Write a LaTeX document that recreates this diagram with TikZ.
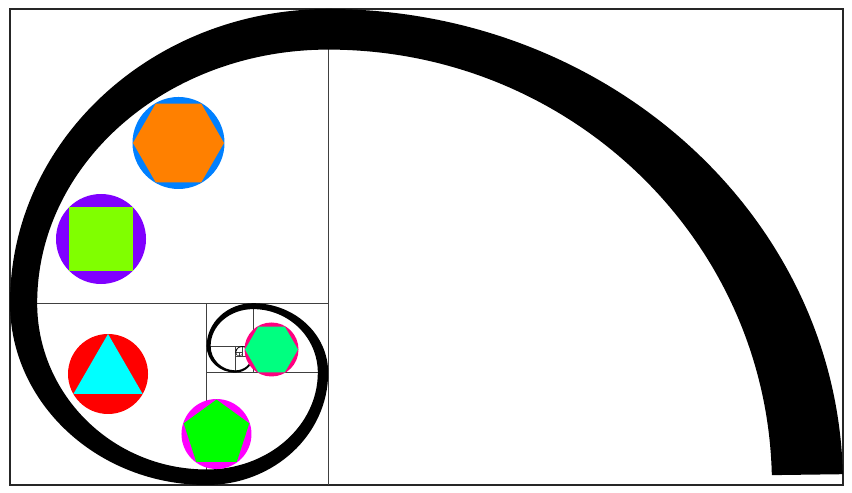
\documentclass[tikz,border=0pt]{standalone}
\usepackage{tikz}
\usetikzlibrary{shapes.geometric}
\definecolor{azure}{HTML}{0080FF}
\definecolor{tangerine}{HTML}{FF8000}
\definecolor{grape}{HTML}{8000FF}
\definecolor{chartreuse}{HTML}{80FF00}
\definecolor{scarlet}{HTML}{FF0000}
\definecolor{aqua}{HTML}{00FFFF}
\definecolor{fuchsia}{HTML}{FF00FF}
\definecolor{leaf}{HTML}{00FF00}
\definecolor{rose}{HTML}{FF0080}
\definecolor{spring}{HTML}{00FF80}
\tikzset{
  frame/.style = {draw=black!85, line width=0.7pt},
  cut/.style   = {draw=black!75, line width=0.6pt},
  band/.style  = {fill=black},
  disc/.style  = {circle, inner sep=0pt, minimum size=#1},
  gon/.style   = {regular polygon, regular polygon sides=#1, inner sep=0pt},
}
\begin{document}
\begin{tikzpicture}[x=10.296cm,y=9.52cm]
\useasboundingbox (-0.019425,-0.014706) rectangle (1.635587,1.018908);

% ------------------------------------------------------------------ squares
\draw[frame] (0,0) rectangle (1.618034,1);
\foreach \xa/\ya/\xb/\yb in {0.618034/0/0.618034/1,
    0/0.381966/0.618034/0.381966,
    0.381966/0/0.381966/0.381966,
    0.381966/0.236068/0.618034/0.236068,
    0.472136/0.236068/0.472136/0.381966,
    0.381966/0.291796/0.472136/0.291796,
    0.437694/0.236068/0.437694/0.291796,
    0.437694/0.270510/0.472136/0.270510,
    0.450850/0.270510/0.450850/0.291796,
    0.437694/0.278640/0.450850/0.278640,
    0.445824/0.270510/0.445824/0.278640}
  {\draw[cut] (\xa,\ya) -- (\xb,\yb);}

% ------------------------------------------------------------------ spiral
\fill[band] (1.617777,0.022688) arc[start angle=1.3, end angle=90, radius=1]
  \foreach \i [evaluate=\i as \r using 0.618034^\i,
               evaluate=\i as \a using 90*\i,
               evaluate=\i as \b using 90*\i+90] in {1,...,11}
    { arc[start angle=\a, end angle=\b, radius=\r] }
  -- ++(-0.00043,0)
  \foreach \i [evaluate=\i as \rx using 0.618034^\i*(0.862+0.0527*isodd(\i)),
               evaluate=\i as \ry using 0.618034^\i*(0.9147-0.0527*isodd(\i)),
               evaluate=\i as \a using 90*\i,
               evaluate=\i as \b using 90*\i+90] in {11,10,...,1}
    { arc[start angle=\b, end angle=\a, x radius=\rx, y radius=\ry] }
  arc[start angle=90, end angle=1.3, x radius=0.862, y radius=0.9147] -- cycle;

% ------------------------------------------------------------------ discs
\node[disc=1.84cm, fill=azure] (ringhex) at (0.3273,0.7185) {};
\node[gon=6, minimum size=1.82cm, fill=tangerine] (hex) at (ringhex) {};
\node[disc=1.80cm, fill=grape] (ringsq) at (0.1768,0.5168) {};
\node[gon=4, minimum size=1.80cm, fill=chartreuse] (sqr) at (ringsq) {};
\node[disc=1.60cm, fill=scarlet] (ringtri) at (0.1904,0.2332) {};
\node[gon=3, minimum size=1.60cm, fill=aqua] (tri) at (ringtri) {};
\node[disc=1.40cm, fill=fuchsia] (ringpent) at (0.4011,0.1071) {};
\node[gon=5, minimum size=1.38cm, fill=leaf] (pent) at (ringpent) {};
\node[disc=1.08cm, fill=rose] (ringhexs) at (0.5080,0.2847) {};
\node[gon=6, minimum size=1.06cm, fill=spring] (hexs) at (ringhexs) {};

\end{tikzpicture}
\end{document}
